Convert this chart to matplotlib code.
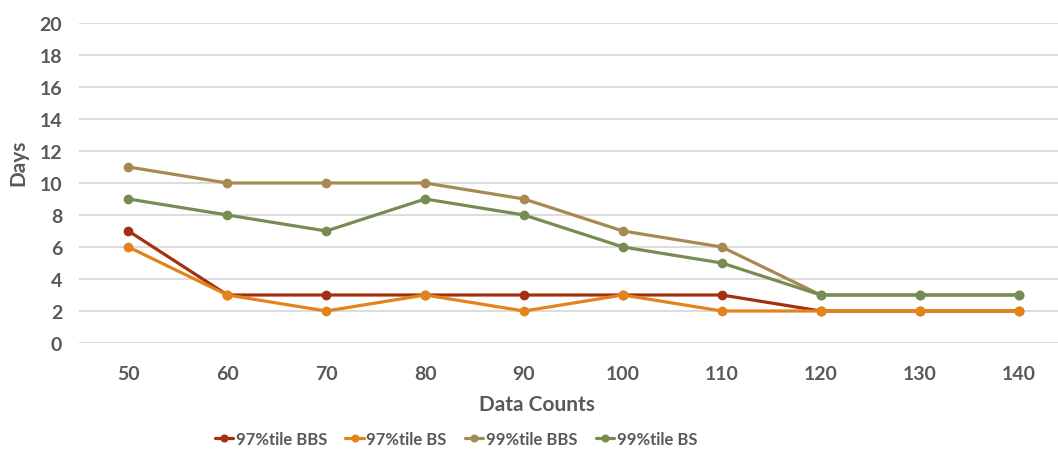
import numpy as np
import matplotlib.pyplot as plt

counts = [50, 60, 70, 80, 90, 100, 110, 120, 130, 140]
bbs_97 = [7, 3, 3, 3, 3, 3, 3, 2, 2, 2]
bs_97 = [6, 3, 2, 3, 2, 3, 2, 2, 2, 2]
bbs_99 = [11, 10, 10, 10, 9, 7, 6, 3, 3, 3]
bs_99 = [9, 8, 7, 9, 8, 6, 5, 3, 3, 3]

series = [
    ("97%tile BBS", bbs_97, "#A5300F"),
    ("97%tile BS", bs_97, "#E3831B"),
    ("99%tile BBS", bbs_99, "#A68A53"),
    ("99%tile BS", bs_99, "#768C52"),
]

text_color = "#595959"
plt.rcParams['font.family'] = ['Lato', 'DejaVu Sans']
plt.rcParams['font.weight'] = 'bold'

W, H = 1058, 452
fig = plt.figure(figsize=(W / 100, H / 100), dpi=100)
ax = fig.add_axes([79 / W, 108 / H, 989 / W, 320 / H])

x = np.arange(len(counts))
for name, vals, col in series:
    ax.plot(x, vals, color=col, lw=2.3, marker='o', ms=6, label=name,
            solid_capstyle='round', zorder=3)

ax.set_xlim(-0.5, len(counts) - 0.5)
ax.set_ylim(0, 20)
ax.set_yticks(range(0, 21, 2))
ax.set_xticks(x)
ax.set_xticklabels([str(c) for c in counts])
ax.grid(axis='y', color='#D9D9D9', lw=1.3)
ax.set_axisbelow(True)
for s in ax.spines.values():
    s.set_visible(False)
ax.tick_params(length=0, labelsize=14, colors=text_color)
ax.tick_params(axis='y', pad=12)
ax.tick_params(axis='x', pad=16)

ax.set_xlabel("Data Counts", fontsize=15, color=text_color, fontweight='bold')
ax.set_ylabel("Days", fontsize=15, color=text_color, fontweight='bold')
# label positions in axes fraction
ax.xaxis.set_label_coords((537 - 79) / 989, ((H - 405) - 108) / 320)
ax.yaxis.set_label_coords((18 - 79) / 989, (H - 163 - 108) / 320)
ax.xaxis.label.set_va('center')
ax.yaxis.label.set_va('center')

leg = fig.legend(loc='center', ncol=4, frameon=False,
                 fontsize=12, labelcolor=text_color, handlelength=1.1,
                 handletextpad=0.15, columnspacing=1.1, borderaxespad=0,
                 markerscale=0.8)
leg.set_bbox_to_anchor((456 / W, 1 - 440 / H))

fig.savefig("out.png", dpi=100)
